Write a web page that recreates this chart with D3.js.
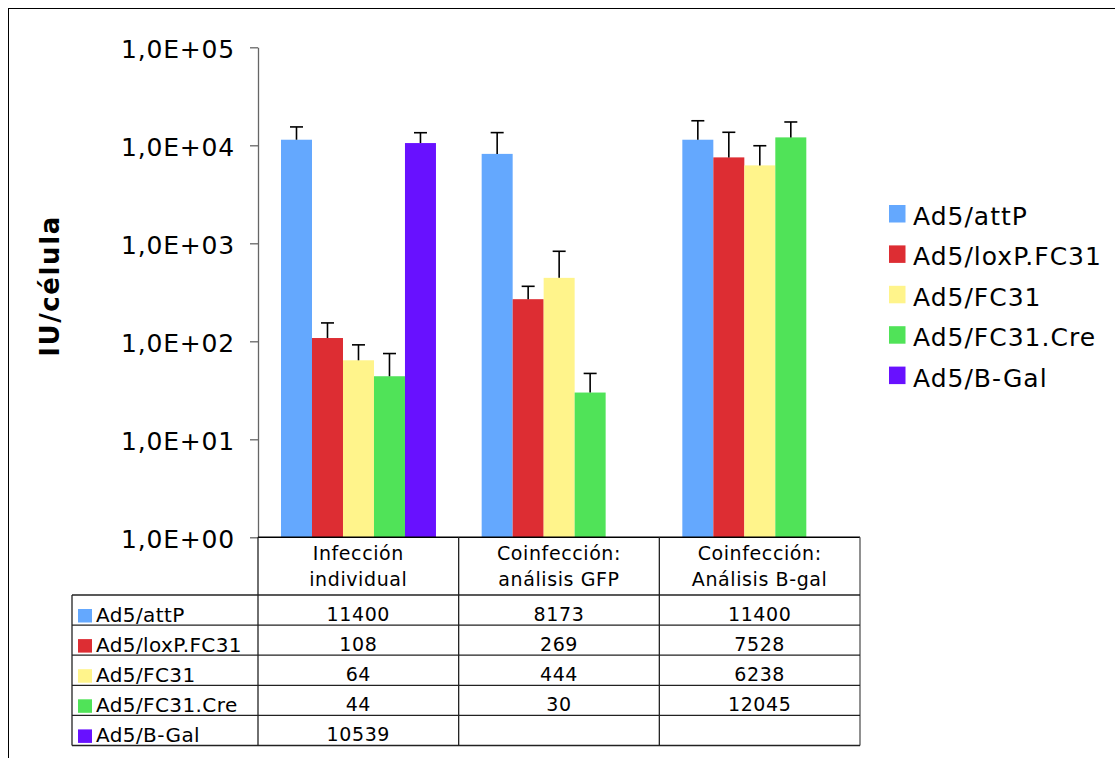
<!DOCTYPE html>
<html><head><meta charset="utf-8">
<script src="https://cdn.jsdelivr.net/npm/d3@7"></script>
<style>
html,body{margin:0;padding:0;background:#fff;}
svg{display:block;}
text{font-family:"DejaVu Sans",sans-serif;fill:#000;}
</style></head>
<body>
<svg id="chart" width="1115" height="758"></svg>
<script>
const categories = ["Infección individual", "Coinfección: análisis GFP", "Coinfección: Análisis B-gal"];
const categoryLines = [["Infección","individual"],["Coinfección:","análisis GFP"],["Coinfección:","Análisis B-gal"]];
const seriesNames = ["Ad5/attP", "Ad5/loxP.FC31", "Ad5/FC31", "Ad5/FC31.Cre", "Ad5/B-Gal"];
const seriesColors = ["#64A8FE", "#DD2D33", "#FFF48B", "#50E358", "#6811FF"];
const attP     = [11400, 8173, 11400];
const loxP     = [108, 269, 7528];
const fc31     = [64, 444, 6238];
const fc31Cre  = [44, 30, 12045];
const bGal     = [10539, null, null];
const errAttP  = [4000, 5300, 6400];
const errLoxP  = [46, 95, 6050];
const errFc31  = [28, 385, 3660];
const errCre   = [31, 17, 5250];
const errBGal  = [2900, null, null];
const tickValues = [1, 10, 100, 1000, 10000, 100000];
const yTitle = "IU/célula";

const seriesValues = [attP, loxP, fc31, fc31Cre, bGal];
const seriesErrors = [errAttP, errLoxP, errFc31, errCre, errBGal];

const svg = d3.select("#chart");

// outer frame
svg.append("rect").attr("x", 8.5).attr("y", 8.5).attr("width", 1200).attr("height", 800)
  .attr("fill", "none").attr("stroke", "#000").attr("stroke-width", 1);

const plotLeft = 258, plotRight = 860, plotTop = 47.3, plotBottom = 537.3;
const y = d3.scaleLog().domain([1, 1e5]).range([plotBottom, plotTop]);
const x0 = d3.scaleBand().domain(categories).range([plotLeft, plotRight]).paddingInner(0).paddingOuter(0);
const x1 = d3.scaleBand().domain(seriesNames).range([23, x0.bandwidth() - 22.7]);

// y axis
const yAxis = d3.axisLeft(y).tickValues(tickValues).tickSize(8).tickSizeOuter(0).tickPadding(15)
  .tickFormat(d => "1,0E+" + String(Math.round(Math.log10(d))).padStart(2, "0"));
const gy = svg.append("g").attr("transform", `translate(${plotLeft},0)`).call(yAxis);
gy.select(".domain").attr("stroke", "#666").attr("stroke-width", 1.3);
gy.selectAll(".tick line").attr("stroke", "#666").attr("stroke-width", 1.3);
gy.selectAll(".tick text").attr("font-family", "DejaVu Sans").attr("font-size", 25)
  .attr("letter-spacing", 0.8).attr("fill", "#000").attr("dy", "0.42em");

// y title
svg.append("text").attr("transform", "translate(59,286) rotate(-90)")
  .attr("text-anchor", "middle").attr("font-weight", "bold").attr("font-size", 26)
  .attr("letter-spacing", 1.6).text(yTitle);

// bars
const groups = svg.append("g").selectAll("g").data(categories).join("g")
  .attr("transform", d => `translate(${x0(d)},0)`);
seriesNames.forEach((s, si) => {
  groups.each(function(c, ci) {
    const v = seriesValues[si][ci];
    if (v == null) return;
    const g = d3.select(this);
    g.append("rect").attr("x", x1(s)).attr("y", y(v)).attr("width", x1.bandwidth())
      .attr("height", y(1) - y(v)).attr("fill", seriesColors[si]);
  });
});
// error bars
seriesNames.forEach((s, si) => {
  groups.each(function(c, ci) {
    const v = seriesValues[si][ci], e = seriesErrors[si][ci];
    if (v == null || e == null) return;
    const g = d3.select(this);
    const cx = x1(s) + x1.bandwidth() / 2;
    g.append("line").attr("x1", cx).attr("x2", cx).attr("y1", y(v)).attr("y2", y(v + e))
      .attr("stroke", "#000").attr("stroke-width", 1.6);
    g.append("line").attr("x1", cx - 6.5).attr("x2", cx + 6.5).attr("y1", y(v + e)).attr("y2", y(v + e))
      .attr("stroke", "#000").attr("stroke-width", 1.6);
  });
});

// table
const tableLeft = 72, headerBottom = 595, rowH = 30.1;
const nRows = seriesNames.length;
const tableBottom = headerBottom + rowH * nRows;
const tg = svg.append("g");
// x axis line
tg.append("line").attr("x1", plotLeft).attr("x2", plotRight).attr("y1", plotBottom).attr("y2", plotBottom)
  .attr("stroke", "#000").attr("stroke-width", 1.6);
// vertical lines
[plotLeft, ...categories.map(c => x0(c) + x0.bandwidth())].forEach((xx, i) => {
  tg.append("line").attr("x1", xx).attr("x2", xx).attr("y1", plotBottom).attr("y2", tableBottom)
    .attr("stroke", i === categories.length ? "#555" : "#222").attr("stroke-width", 1.3);
});
tg.append("line").attr("x1", tableLeft).attr("x2", tableLeft).attr("y1", headerBottom).attr("y2", tableBottom)
  .attr("stroke", "#222").attr("stroke-width", 1.3);
// horizontal lines
d3.range(nRows + 1).forEach(i => {
  const yy = headerBottom + i * rowH;
  tg.append("line").attr("x1", tableLeft).attr("x2", plotRight).attr("y1", yy).attr("y2", yy)
    .attr("stroke", "#222").attr("stroke-width", 1.3);
});
// header text
categories.forEach((c, ci) => {
  const cx = x0(c) + x0.bandwidth() / 2;
  categoryLines[ci].forEach((ln, li) => {
    tg.append("text").attr("x", cx).attr("y", 560 + li * 25.5).attr("text-anchor", "middle")
      .attr("font-size", 19).attr("letter-spacing", 0.6).text(ln);
  });
});
// rows
seriesNames.forEach((s, si) => {
  const top = headerBottom + si * rowH;
  tg.append("rect").attr("x", 78).attr("y", top + 14).attr("width", 14).attr("height", 13.5)
    .attr("fill", seriesColors[si]);
  tg.append("text").attr("x", 96).attr("y", top + 27).attr("font-size", 20)
    .attr("letter-spacing", 0.4).text(s);
  categories.forEach((c, ci) => {
    const v = seriesValues[si][ci];
    if (v == null) return;
    tg.append("text").attr("x", x0(c) + x0.bandwidth() / 2).attr("y", top + 25.5)
      .attr("text-anchor", "middle").attr("font-size", 19).attr("letter-spacing", 0.6).text(v);
  });
});

// legend
const lg = svg.append("g").attr("transform", "translate(889,205)");
seriesNames.forEach((s, si) => {
  const item = lg.append("g").attr("transform", `translate(0,${si * 40.4})`);
  item.append("rect").attr("x", 0).attr("y", 0).attr("width", 16.5).attr("height", 17.5).attr("fill", seriesColors[si]);
  item.append("text").attr("x", 24).attr("y", 20).attr("font-size", 25).attr("letter-spacing", 1).text(s);
});
</script>
</body></html>
